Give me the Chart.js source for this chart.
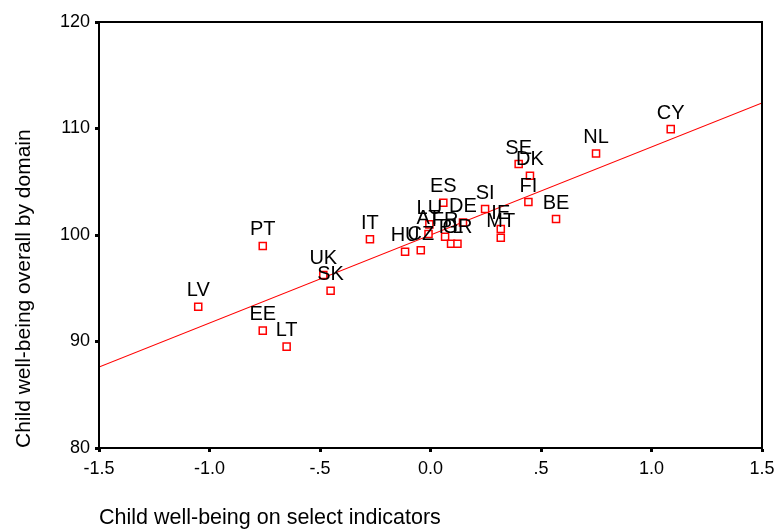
<!DOCTYPE html>
<html>
<head>
<meta charset="utf-8">
<script src="https://cdn.jsdelivr.net/npm/chart.js@4/dist/chart.umd.min.js"></script>
<style>
  html, body { margin: 0; padding: 0; background: #fff; }
  #wrap { width: 777px; height: 531px; }
</style>
</head>
<body>
<div id="wrap"><canvas id="scatter"></canvas></div>
<script>
// Country codes and their values
const countries = ['CY', 'NL', 'SE', 'DK', 'FI', 'BE', 'ES', 'SI', 'IE', 'MT', 'LU', 'DE', 'AT',
    'FR', 'PL', 'GR', 'HU', 'CZ', 'IT', 'PT', 'UK', 'SK', 'LV', 'EE', 'LT'];
const selectIndicators = [1.087, 0.749, 0.399, 0.450, 0.443, 0.568, 0.058, 0.247, 0.318, 0.318, -0.005, 0.147, -0.009,
    0.066, 0.093, 0.122, -0.115, -0.044, -0.274, -0.759, -0.485, -0.452, -1.051, -0.759, -0.651];
const overallByDomain = [109.94, 107.66, 106.66, 105.56, 103.10, 101.50, 103.02, 102.44, 100.56, 99.75, 101.0, 101.17, 100.09,
    99.84, 99.18, 99.18, 98.43, 98.56, 99.60, 98.97, 96.25, 94.77, 93.27, 91.02, 89.52];

// Fit line end points
const fitX = [-1.5, 1.5];
const fitY = [87.6, 112.4];

// Tick labels
const xTickLabels = ['-1.5', '-1.0', '-.5', '0.0', '.5', '1.0', '1.5'];
const yTickLabels = ['80', '90', '100', '110', '120'];

const fontFamily = '"Liberation Sans", Arial, sans-serif';

// Frame around plot + country labels above points
const framePlugin = {
    id: 'frame',
    afterDatasetsDraw(chart) {
        const ctx = chart.ctx;
        const a = chart.chartArea;
        ctx.save();
        ctx.strokeStyle = '#000';
        ctx.lineWidth = 2;
        ctx.strokeRect(a.left, a.top, a.right - a.left, a.bottom - a.top);

        const meta = chart.getDatasetMeta(0);
        ctx.fillStyle = '#000';
        ctx.font = '20px ' + fontFamily;
        ctx.textAlign = 'center';
        ctx.textBaseline = 'middle';
        meta.data.forEach((pt, i) => {
            ctx.fillText(countries[i], pt.x, pt.y - 16);
        });
        ctx.restore();
    }
};

const ctx = document.getElementById('scatter').getContext('2d');
new Chart(ctx, {
    type: 'scatter',
    data: {
        datasets: [{
            data: selectIndicators.map((x, i) => ({ x: x, y: overallByDomain[i] })),
            pointStyle: 'rect',
            radius: 5,
            borderColor: '#ff0000',
            backgroundColor: '#ffffff',
            borderWidth: 1.5
        }, {
            type: 'line',
            data: fitX.map((x, i) => ({ x: x, y: fitY[i] })),
            borderColor: '#ff0000',
            borderWidth: 1.2,
            pointRadius: 0,
            fill: false
        }]
    },
    options: {
        responsive: true,
        maintainAspectRatio: false,
        animation: false,
        layout: { padding: { top: 22, right: 15, left: 0, bottom: 0 } },
        plugins: {
            legend: { display: false },
            tooltip: { enabled: false }
        },
        scales: {
            x: {
                type: 'linear',
                min: -1.5,
                max: 1.5,
                afterFit(scale) {
                    scale.height = 83;
                    scale.paddingLeft = 0;
                    scale.paddingRight = 0;
                },
                ticks: {
                    stepSize: 0.5,
                    color: '#000',
                    padding: 6,
                    maxRotation: 0,
                    font: { size: 18, family: fontFamily },
                    callback: (value, index) => xTickLabels[index]
                },
                grid: { drawOnChartArea: false, tickLength: 4, tickWidth: 3, tickColor: '#000' },
                border: { display: true, color: '#000', width: 2 },
                title: {
                    display: true,
                    text: 'Child well-being on select indicators',
                    align: 'start',
                    color: '#000',
                    padding: { top: 0, bottom: 0 },
                    font: { size: 21.5, family: fontFamily }
                }
            },
            y: {
                min: 80,
                max: 120,
                afterFit(scale) { scale.width = 99; },
                ticks: {
                    stepSize: 10,
                    color: '#000',
                    padding: 5,
                    font: { size: 18, family: fontFamily },
                    callback: (value, index) => yTickLabels[index]
                },
                grid: { drawOnChartArea: false, tickLength: 4, tickWidth: 3, tickColor: '#000' },
                border: { display: true, color: '#000', width: 2 },
                title: {
                    display: true,
                    text: 'Child well-being overall by domain',
                    align: 'start',
                    color: '#000',
                    padding: { top: 12, bottom: 0 },
                    font: { size: 21, family: fontFamily }
                }
            }
        }
    },
    plugins: [framePlugin]
});
</script>
</body>
</html>
